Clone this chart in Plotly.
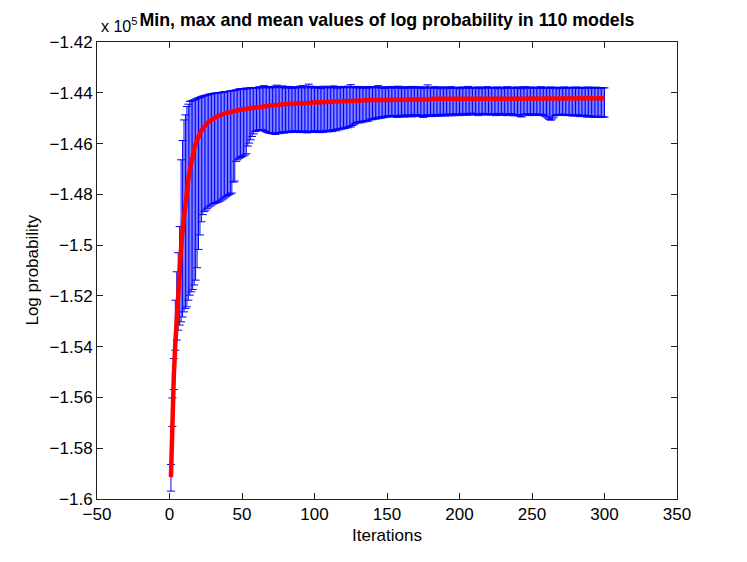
import plotly.graph_objects as go

# log probability values, in units of 1e5 (axis shows "x 10^5")
iterations = list(range(1, 301))

mean_vals = [
    -1.5914, -1.5660, -1.5510, -1.5390, -1.5280, -1.5180, -1.5090, -1.5010, -1.4940, -1.4880,
    -1.4825, -1.4780, -1.4740, -1.4705, -1.4672, -1.4645, -1.4622, -1.4602, -1.4585, -1.4571,
    -1.4559, -1.4549, -1.4540, -1.4532, -1.4526, -1.4520, -1.4515, -1.4510, -1.4506, -1.4502,
    -1.4499, -1.4496, -1.4493, -1.4490, -1.4488, -1.4486, -1.4484, -1.4482, -1.4480, -1.4479,
    -1.4477, -1.4476, -1.4474, -1.4473, -1.4472, -1.4470, -1.4469, -1.4468, -1.4467, -1.4466,
    -1.4465, -1.4464, -1.4463, -1.4462, -1.4461, -1.4460, -1.4459, -1.4458, -1.4457, -1.4456,
    -1.4455, -1.4455, -1.4454, -1.4453, -1.4453, -1.4452, -1.4451, -1.4451, -1.4450, -1.4450,
    -1.4449, -1.4449, -1.4448, -1.4448, -1.4447, -1.4447, -1.4446, -1.4446, -1.4445, -1.4445,
    -1.4444, -1.4444, -1.4444, -1.4443, -1.4443, -1.4443, -1.4442, -1.4442, -1.4442, -1.4441,
    -1.4441, -1.4441, -1.4440, -1.4440, -1.4440, -1.4439, -1.4439, -1.4439, -1.4438, -1.4438,
    -1.4438, -1.4438, -1.4437, -1.4437, -1.4437, -1.4436, -1.4436, -1.4436, -1.4436, -1.4435,
    -1.4435, -1.4435, -1.4434, -1.4434, -1.4434, -1.4434, -1.4433, -1.4433, -1.4433, -1.4433,
    -1.4432, -1.4432, -1.4432, -1.4432, -1.4431, -1.4431, -1.4431, -1.4431, -1.4430, -1.4430,
    -1.4430, -1.4430, -1.4430, -1.4429, -1.4429, -1.4429, -1.4429, -1.4429, -1.4428, -1.4428,
    -1.4428, -1.4428, -1.4428, -1.4428, -1.4427, -1.4427, -1.4427, -1.4427, -1.4427, -1.4427,
    -1.4426, -1.4426, -1.4426, -1.4426, -1.4426, -1.4426, -1.4426, -1.4426, -1.4426, -1.4426,
    -1.4426, -1.4426, -1.4426, -1.4426, -1.4426, -1.4425, -1.4425, -1.4425, -1.4425, -1.4425,
    -1.4425, -1.4425, -1.4425, -1.4425, -1.4425, -1.4425, -1.4425, -1.4425, -1.4425, -1.4425,
    -1.4424, -1.4424, -1.4424, -1.4424, -1.4424, -1.4424, -1.4424, -1.4424, -1.4424, -1.4424,
    -1.4424, -1.4424, -1.4424, -1.4424, -1.4424, -1.4424, -1.4424, -1.4424, -1.4424, -1.4424,
    -1.4424, -1.4424, -1.4424, -1.4424, -1.4424, -1.4424, -1.4424, -1.4424, -1.4424, -1.4424,
    -1.4424, -1.4424, -1.4424, -1.4424, -1.4424, -1.4424, -1.4424, -1.4424, -1.4424, -1.4424,
    -1.4423, -1.4423, -1.4423, -1.4423, -1.4423, -1.4423, -1.4423, -1.4423, -1.4423, -1.4423,
    -1.4423, -1.4423, -1.4423, -1.4423, -1.4423, -1.4423, -1.4423, -1.4423, -1.4423, -1.4423,
    -1.4423, -1.4423, -1.4423, -1.4423, -1.4423, -1.4423, -1.4423, -1.4423, -1.4423, -1.4423,
    -1.4423, -1.4423, -1.4423, -1.4423, -1.4423, -1.4423, -1.4423, -1.4423, -1.4423, -1.4423,
    -1.4423, -1.4423, -1.4423, -1.4423, -1.4423, -1.4423, -1.4423, -1.4423, -1.4423, -1.4423,
    -1.4422, -1.4422, -1.4422, -1.4422, -1.4422, -1.4422, -1.4422, -1.4422, -1.4422, -1.4422,
    -1.4422, -1.4422, -1.4422, -1.4422, -1.4422, -1.4422, -1.4422, -1.4422, -1.4422, -1.4422,
    -1.4422, -1.4422, -1.4422, -1.4422, -1.4422, -1.4422, -1.4422, -1.4422, -1.4422, -1.4422,
]

max_vals = [
    -1.5864, -1.5602, -1.5447, -1.5217, -1.5105, -1.5030, -1.4927, -1.4664, -1.4588, -1.4507,
    -1.4487, -1.4454, -1.4445, -1.4434, -1.4432, -1.4430, -1.4428, -1.4425, -1.4422, -1.4420,
    -1.4418, -1.4415, -1.4413, -1.4412, -1.4410, -1.4409, -1.4407, -1.4405, -1.4404, -1.4403,
    -1.4402, -1.4401, -1.4401, -1.4400, -1.4399, -1.4398, -1.4398, -1.4396, -1.4395, -1.4395,
    -1.4394, -1.4393, -1.4392, -1.4391, -1.4390, -1.4389, -1.4388, -1.4385, -1.4384, -1.4386,
    -1.4383, -1.4385, -1.4381, -1.4384, -1.4382, -1.4380, -1.4383, -1.4381, -1.4379, -1.4382,
    -1.4380, -1.4376, -1.4381, -1.4378, -1.4372, -1.4377, -1.4380, -1.4375, -1.4378, -1.4381,
    -1.4376, -1.4379, -1.4374, -1.4370, -1.4377, -1.4380, -1.4376, -1.4373, -1.4379, -1.4382,
    -1.4378, -1.4375, -1.4380, -1.4377, -1.4383, -1.4379, -1.4376, -1.4381, -1.4378, -1.4374,
    -1.4379, -1.4372, -1.4377, -1.4381, -1.4376, -1.4366, -1.4374, -1.4379, -1.4377, -1.4382,
    -1.4378, -1.4375, -1.4380, -1.4383, -1.4377, -1.4379, -1.4374, -1.4381, -1.4378, -1.4376,
    -1.4380, -1.4377, -1.4373, -1.4379, -1.4382, -1.4376, -1.4378, -1.4381, -1.4375, -1.4379,
    -1.4377, -1.4380, -1.4374, -1.4378, -1.4368, -1.4376, -1.4381, -1.4379, -1.4375, -1.4378,
    -1.4382, -1.4377, -1.4380, -1.4376, -1.4379, -1.4383, -1.4378, -1.4375, -1.4380, -1.4377,
    -1.4379, -1.4381, -1.4376, -1.4372, -1.4378, -1.4380, -1.4377, -1.4383, -1.4379, -1.4376,
    -1.4381, -1.4378, -1.4380, -1.4375, -1.4379, -1.4382, -1.4377, -1.4374, -1.4380, -1.4378,
    -1.4383, -1.4379, -1.4376, -1.4381, -1.4378, -1.4380, -1.4375, -1.4382, -1.4379, -1.4377,
    -1.4380, -1.4376, -1.4379, -1.4383, -1.4378, -1.4381, -1.4377, -1.4369, -1.4380, -1.4378,
    -1.4382, -1.4379, -1.4376, -1.4381, -1.4378, -1.4380, -1.4384, -1.4377, -1.4380, -1.4378,
    -1.4381, -1.4379, -1.4383, -1.4376, -1.4380, -1.4382, -1.4378, -1.4381, -1.4379, -1.4384,
    -1.4380, -1.4377, -1.4382, -1.4379, -1.4381, -1.4375, -1.4380, -1.4383, -1.4378, -1.4381,
    -1.4379, -1.4382, -1.4377, -1.4380, -1.4384, -1.4378, -1.4381, -1.4379, -1.4376, -1.4382,
    -1.4380, -1.4378, -1.4383, -1.4379, -1.4381, -1.4377, -1.4380, -1.4384, -1.4378, -1.4381,
    -1.4379, -1.4382, -1.4376, -1.4380, -1.4383, -1.4378, -1.4381, -1.4379, -1.4382, -1.4377,
    -1.4380, -1.4384, -1.4378, -1.4381, -1.4376, -1.4379, -1.4382, -1.4380, -1.4377, -1.4381,
    -1.4379, -1.4383, -1.4378, -1.4381, -1.4380, -1.4376, -1.4382, -1.4379, -1.4381, -1.4378,
    -1.4383, -1.4380, -1.4377, -1.4381, -1.4379, -1.4382, -1.4378, -1.4380, -1.4384, -1.4379,
    -1.4381, -1.4377, -1.4380, -1.4383, -1.4378, -1.4381, -1.4379, -1.4382, -1.4380, -1.4377,
    -1.4381, -1.4379, -1.4383, -1.4378, -1.4380, -1.4382, -1.4379, -1.4381, -1.4377, -1.4380,
    -1.4382, -1.4379, -1.4381, -1.4378, -1.4383, -1.4380, -1.4379, -1.4382, -1.4380, -1.4381,
]

min_vals = [
    -1.5969, -1.5714, -1.5569, -1.5414, -1.5374, -1.5335, -1.5315, -1.5302, -1.5283, -1.5263,
    -1.5250, -1.5243, -1.5217, -1.5197, -1.5184, -1.5175, -1.5157, -1.5138, -1.5089, -1.5017,
    -1.4960, -1.4908, -1.4880, -1.4868, -1.4862, -1.4855, -1.4850, -1.4846, -1.4842, -1.4838,
    -1.4836, -1.4833, -1.4831, -1.4829, -1.4826, -1.4822, -1.4818, -1.4814, -1.4809, -1.4805,
    -1.4801, -1.4798, -1.4795, -1.4752, -1.4748, -1.4670, -1.4664, -1.4658, -1.4655, -1.4651,
    -1.4648, -1.4645, -1.4640, -1.4610, -1.4598, -1.4585, -1.4572, -1.4562, -1.4553, -1.4550,
    -1.4548, -1.4546, -1.4545, -1.4546, -1.4549, -1.4552, -1.4555, -1.4557, -1.4559, -1.4560,
    -1.4562, -1.4558, -1.4564, -1.4560, -1.4556, -1.4561, -1.4557, -1.4553, -1.4559, -1.4555,
    -1.4552, -1.4557, -1.4554, -1.4550, -1.4556, -1.4553, -1.4549, -1.4555, -1.4551, -1.4557,
    -1.4553, -1.4550, -1.4556, -1.4552, -1.4558, -1.4554, -1.4551, -1.4556, -1.4553, -1.4549,
    -1.4555, -1.4552, -1.4557, -1.4553, -1.4550, -1.4556, -1.4552, -1.4548, -1.4554, -1.4551,
    -1.4547, -1.4553, -1.4549, -1.4545, -1.4550, -1.4542, -1.4546, -1.4540, -1.4543, -1.4538,
    -1.4541, -1.4535, -1.4538, -1.4532, -1.4535, -1.4529, -1.4526, -1.4522, -1.4518, -1.4515,
    -1.4519, -1.4513, -1.4516, -1.4511, -1.4514, -1.4509, -1.4512, -1.4507, -1.4503, -1.4506,
    -1.4500, -1.4504, -1.4498, -1.4502, -1.4496, -1.4500, -1.4494, -1.4498, -1.4492, -1.4496,
    -1.4490, -1.4494, -1.4491, -1.4495, -1.4489, -1.4493, -1.4497, -1.4490, -1.4494, -1.4488,
    -1.4492, -1.4496, -1.4489, -1.4493, -1.4487, -1.4491, -1.4495, -1.4488, -1.4492, -1.4486,
    -1.4490, -1.4494, -1.4488, -1.4492, -1.4497, -1.4489, -1.4493, -1.4486, -1.4490, -1.4494,
    -1.4488, -1.4491, -1.4485, -1.4489, -1.4493, -1.4487, -1.4490, -1.4484, -1.4488, -1.4492,
    -1.4486, -1.4489, -1.4483, -1.4487, -1.4491, -1.4485, -1.4488, -1.4482, -1.4486, -1.4490,
    -1.4484, -1.4487, -1.4481, -1.4485, -1.4489, -1.4483, -1.4486, -1.4480, -1.4484, -1.4488,
    -1.4482, -1.4485, -1.4490, -1.4483, -1.4486, -1.4481, -1.4484, -1.4488, -1.4482, -1.4486,
    -1.4484, -1.4488, -1.4482, -1.4486, -1.4490, -1.4483, -1.4487, -1.4481, -1.4485, -1.4489,
    -1.4483, -1.4486, -1.4490, -1.4484, -1.4488, -1.4482, -1.4486, -1.4491, -1.4485, -1.4489,
    -1.4486, -1.4494, -1.4495, -1.4488, -1.4484, -1.4487, -1.4483, -1.4486, -1.4490, -1.4484,
    -1.4487, -1.4483, -1.4489, -1.4485, -1.4488, -1.4484, -1.4490, -1.4486, -1.4492, -1.4496,
    -1.4500, -1.4505, -1.4508, -1.4503, -1.4496, -1.4490, -1.4486, -1.4489, -1.4485, -1.4488,
    -1.4484, -1.4487, -1.4490, -1.4486, -1.4489, -1.4485, -1.4488, -1.4492, -1.4486, -1.4490,
    -1.4487, -1.4491, -1.4494, -1.4489, -1.4492, -1.4488, -1.4493, -1.4496, -1.4490, -1.4494,
    -1.4491, -1.4495, -1.4497, -1.4493, -1.4496, -1.4492, -1.4495, -1.4497, -1.4494, -1.4496,
]

x_ticks = [-50, 0, 50, 100, 150, 200, 250, 300, 350]
y_ticks = [-1.6, -1.58, -1.56, -1.54, -1.52, -1.5, -1.48, -1.46, -1.44, -1.42]
y_tick_labels = ["\u22121.6", "\u22121.58", "\u22121.56", "\u22121.54", "\u22121.52",
                 "\u22121.5", "\u22121.48", "\u22121.46", "\u22121.44", "\u22121.42"]
x_tick_labels = ["\u221250", "0", "50", "100", "150", "200", "250", "300", "350"]

err_plus = [hi - m for hi, m in zip(max_vals, mean_vals)]
err_minus = [m - lo for lo, m in zip(min_vals, mean_vals)]

font_family = "Liberation Sans, Arial, sans-serif"

fig = go.Figure()

# min/max error bars around the mean
fig.add_trace(go.Scatter(
    x=iterations, y=mean_vals,
    mode="lines",
    line=dict(color="blue", width=0.5),
    error_y=dict(
        type="data", symmetric=False,
        array=err_plus, arrayminus=err_minus,
        color="blue", thickness=1, width=4,
    ),
    showlegend=False,
))

# mean curve
fig.add_trace(go.Scatter(
    x=iterations, y=mean_vals,
    mode="lines",
    line=dict(color="red", width=4.5),
    showlegend=False,
))

axis_style = dict(
    showgrid=False, zeroline=False,
    showline=True, linecolor="#222", linewidth=1, mirror="ticks",
    ticks="inside", ticklen=6, tickcolor="#222",
    tickfont=dict(family=font_family, size=17, color="black"),
)

# page body has an 8px margin, so the figure is 8px smaller than the window
fig.update_layout(
    width=739, height=554,
    margin=dict(l=89, r=70, t=34, b=63),
    paper_bgcolor="white", plot_bgcolor="white",
    font=dict(family=font_family, color="black"),
    title=dict(
        text="<b>Min, max and mean values of log probability in 110 models</b>",
        x=0.5, xref="paper", xanchor="center",
        y=1 - 12 / 554, yanchor="middle",
        font=dict(family=font_family, size=17.8, color="black"),
    ),
    xaxis=dict(range=[-50, 350], tickvals=x_ticks, ticktext=x_tick_labels, **axis_style),
    yaxis=dict(range=[-1.6, -1.42], tickvals=y_ticks, ticktext=y_tick_labels, **axis_style),
    annotations=[
        dict(text="x 10<sup>5</sup>", xref="paper", yref="paper",
             x=0.003, y=1.012, xanchor="left", yanchor="bottom",
             showarrow=False, font=dict(family=font_family, size=16)),
        dict(text="Iterations", xref="paper", yref="paper",
             x=0.5, y=-0.079, xanchor="center", yanchor="middle",
             showarrow=False, font=dict(family=font_family, size=17)),
        dict(text="Log probability", xref="paper", yref="paper",
             x=-0.112, y=0.5, xanchor="center", yanchor="middle", textangle=-90,
             showarrow=False, font=dict(family=font_family, size=17)),
    ],
)

fig.write_html("out.html")
